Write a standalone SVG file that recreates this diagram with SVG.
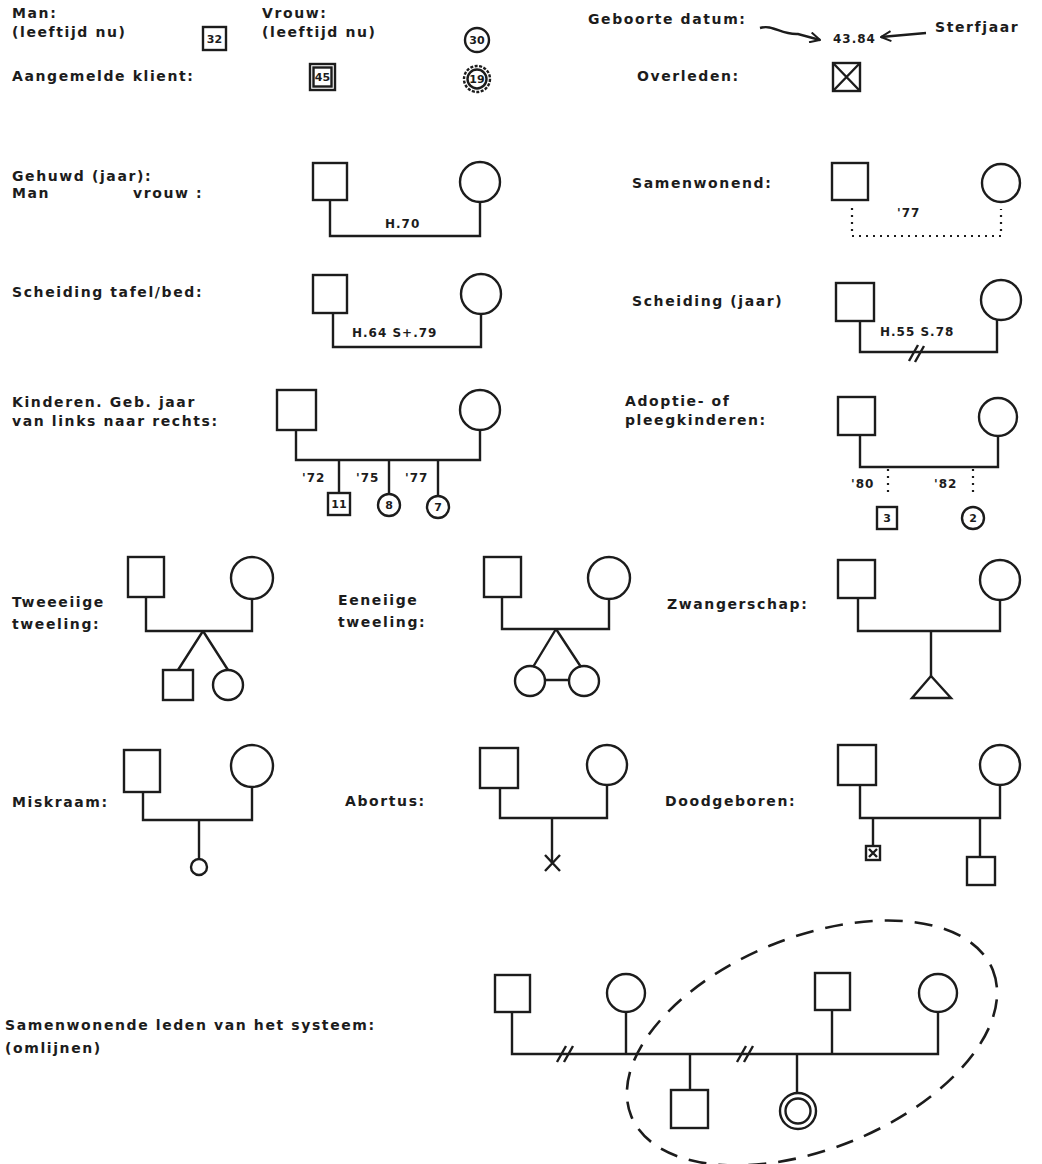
<svg xmlns="http://www.w3.org/2000/svg" width="1042" height="1164" viewBox="0 0 1042 1164">
<style>
.lbl{font-family:"DejaVu Sans","Liberation Sans",sans-serif;font-weight:bold;font-size:14px;letter-spacing:1.6px;fill:#1c1c1c}
.sm{font-family:"DejaVu Sans","Liberation Sans",sans-serif;font-weight:bold;font-size:12px;letter-spacing:1px;fill:#1c1c1c}
.num{font-family:"DejaVu Sans","Liberation Sans",sans-serif;font-weight:bold;font-size:11px;fill:#1c1c1c;text-anchor:middle}
.s{fill:#fff;stroke:#1c1c1c;stroke-width:2.4}
.ln{fill:none;stroke:#1c1c1c;stroke-width:2.4}
.dot{fill:none;stroke:#1c1c1c;stroke-width:2.2;stroke-dasharray:2 5}
.dash{fill:none;stroke:#1c1c1c;stroke-width:2.6;stroke-dasharray:18 12}
</style>
<defs>
<marker id="arr" viewBox="0 0 12 12" refX="11" refY="6" markerWidth="12" markerHeight="12" markerUnits="userSpaceOnUse" orient="auto">
<path d="M1,1 L11,6 L1,11" fill="none" stroke="#1c1c1c" stroke-width="2"/>
</marker>
</defs>
<rect width="1042" height="1164" fill="#fff"/>

<!-- labels -->
<g id="labels">
<text class="lbl" x="12" y="18">Man:</text>
<text class="lbl" x="12" y="37">(leeftijd nu)</text>
<text class="lbl" x="262" y="18">Vrouw:</text>
<text class="lbl" x="262" y="37">(leeftijd nu)</text>
<text class="lbl" x="12" y="81">Aangemelde klient:</text>
<text class="lbl" x="588" y="24">Geboorte datum:</text>
<text class="lbl" x="935" y="32">Sterfjaar</text>
<text class="lbl" x="637" y="81">Overleden:</text>
<text class="lbl" x="12" y="181">Gehuwd (jaar):</text>
<text class="lbl" x="12" y="198">Man</text>
<text class="lbl" x="133" y="198">vrouw :</text>
<text class="lbl" x="632" y="188">Samenwonend:</text>
<text class="lbl" x="12" y="297">Scheiding tafel/bed:</text>
<text class="lbl" x="632" y="306">Scheiding (jaar)</text>
<text class="lbl" x="12" y="407">Kinderen. Geb. jaar</text>
<text class="lbl" x="12" y="426">van links naar rechts:</text>
<text class="lbl" x="625" y="406">Adoptie- of</text>
<text class="lbl" x="625" y="425">pleegkinderen:</text>
<text class="lbl" x="12" y="607">Tweeeiige</text>
<text class="lbl" x="12" y="629">tweeling:</text>
<text class="lbl" x="338" y="605">Eeneiige</text>
<text class="lbl" x="338" y="627">tweeling:</text>
<text class="lbl" x="667" y="609">Zwangerschap:</text>
<text class="lbl" x="12" y="807">Miskraam:</text>
<text class="lbl" x="345" y="806">Abortus:</text>
<text class="lbl" x="665" y="806">Doodgeboren:</text>
<text class="lbl" x="5" y="1030">Samenwonende leden van het systeem:</text>
<text class="lbl" x="5" y="1053">(omlijnen)</text>
</g>

<!-- legend symbols -->
<g id="man-32"><rect class="s" x="203" y="27" width="23" height="23"/><text class="num" x="214.5" y="43">32</text></g>
<g id="vrouw-30"><circle class="s" cx="477" cy="40" r="12"/><text class="num" x="477" y="44">30</text></g>
<g id="klient-45"><rect class="s" x="310" y="64" width="25" height="26"/><rect class="s" x="313.5" y="67.5" width="18" height="19"/><text class="num" x="322.5" y="81">45</text></g>
<g id="klient-19"><circle class="s" cx="477" cy="79" r="13" stroke-dasharray="3 1.5"/><circle class="s" cx="477" cy="79" r="9.5"/><text class="num" x="477" y="83">19</text></g>
<g id="geboorte"><text class="sm" x="833" y="43">43.84</text></g>
<g id="overleden"><rect class="s" x="833" y="63" width="27" height="28"/><path class="ln" d="M833,63 L860,91 M860,63 L833,91"/></g>

<!-- Gehuwd -->
<g id="gehuwd-man"><rect class="s" x="313" y="163" width="34" height="37"/></g>
<g id="gehuwd-vrouw"><circle class="s" cx="480" cy="182" r="20"/></g>
<!-- Samenwonend -->
<g id="samen-man"><rect class="s" x="832" y="163" width="36" height="37"/></g>
<g id="samen-vrouw"><circle class="s" cx="1001" cy="183" r="19"/></g>
<!-- Scheiding tafel/bed -->
<g id="tafel-man"><rect class="s" x="313" y="275" width="34" height="38"/></g>
<g id="tafel-vrouw"><circle class="s" cx="481" cy="294" r="20"/></g>
<!-- Scheiding jaar -->
<g id="sch-man"><rect class="s" x="836" y="283" width="38" height="38"/></g>
<g id="sch-vrouw"><circle class="s" cx="1001" cy="300" r="20"/></g>
<!-- Kinderen -->
<g id="kind-man"><rect class="s" x="277" y="390" width="39" height="40"/></g>
<g id="kind-vrouw"><circle class="s" cx="480" cy="410" r="20"/></g>
<g id="kind-11"><rect class="s" x="328" y="493" width="22" height="22"/><text class="num" x="339" y="508">11</text></g>
<g id="kind-8"><circle class="s" cx="389" cy="505" r="11"/><text class="num" x="389" y="509">8</text></g>
<g id="kind-7"><circle class="s" cx="438" cy="507" r="11"/><text class="num" x="438" y="511">7</text></g>
<!-- Adoptie -->
<g id="adop-man"><rect class="s" x="838" y="397" width="37" height="38"/></g>
<g id="adop-vrouw"><circle class="s" cx="998" cy="417" r="19"/></g>
<g id="adop-3"><rect class="s" x="877" y="507" width="20" height="22"/><text class="num" x="887" y="522">3</text></g>
<g id="adop-2"><circle class="s" cx="973" cy="518" r="11"/><text class="num" x="973" y="522">2</text></g>
<!-- Twee-eiig -->
<g id="tw2-man"><rect class="s" x="128" y="557" width="36" height="40"/></g>
<g id="tw2-vrouw"><circle class="s" cx="252" cy="578" r="21"/></g>
<g id="tw2-zoon"><rect class="s" x="163" y="670" width="30" height="30"/></g>
<g id="tw2-dochter"><circle class="s" cx="228" cy="685" r="15"/></g>
<!-- Eeneiig -->
<g id="tw1-man"><rect class="s" x="484" y="557" width="37" height="40"/></g>
<g id="tw1-vrouw"><circle class="s" cx="609" cy="578" r="21"/></g>
<g id="tw1-a"><circle class="s" cx="530" cy="681" r="15"/></g>
<g id="tw1-b"><circle class="s" cx="584" cy="681" r="15"/></g>
<!-- Zwangerschap -->
<g id="zw-man"><rect class="s" x="838" y="560" width="37" height="38"/></g>
<g id="zw-vrouw"><circle class="s" cx="1000" cy="580" r="20"/></g>
<g id="zw-kind"><polygon class="s" points="931,676 912,698 951,698"/></g>
<!-- Miskraam -->
<g id="mis-man"><rect class="s" x="124" y="750" width="36" height="42"/></g>
<g id="mis-vrouw"><circle class="s" cx="252" cy="766" r="21"/></g>
<g id="mis-kind"><circle class="s" cx="199" cy="867" r="8"/></g>
<!-- Abortus -->
<g id="ab-man"><rect class="s" x="480" y="748" width="38" height="40"/></g>
<g id="ab-vrouw"><circle class="s" cx="607" cy="765" r="20"/></g>
<g id="ab-kind"><path class="ln" d="M545,855 L560,871 M560,855 L545,871"/></g>
<!-- Doodgeboren -->
<g id="dg-man"><rect class="s" x="838" y="745" width="38" height="40"/></g>
<g id="dg-vrouw"><circle class="s" cx="1000" cy="765" r="20"/></g>
<g id="dg-kind1"><rect class="s" x="866" y="846" width="14" height="14"/><path class="ln" stroke-width="1.6" d="M869,849 L877,857 M877,849 L869,857"/></g>
<g id="dg-kind2"><rect class="s" x="967" y="857" width="28" height="28"/></g>
<!-- Systeem -->
<g id="sys-man1"><rect class="s" x="495" y="975" width="35" height="37"/></g>
<g id="sys-vrouw1"><circle class="s" cx="626" cy="993" r="19"/></g>
<g id="sys-man2"><rect class="s" x="815" y="973" width="35" height="37"/></g>
<g id="sys-vrouw2"><circle class="s" cx="938" cy="993" r="19"/></g>
<g id="sys-zoon"><rect class="s" x="671" y="1090" width="37" height="38"/></g>
<g id="sys-dochter"><circle class="s" cx="798" cy="1111" r="18"/><circle class="s" cx="798" cy="1111" r="12.5"/></g>
<g id="sys-omlijning"><ellipse class="dash" cx="812" cy="1043" rx="195" ry="106" transform="rotate(-22 812 1043)"/></g>

<!-- connectors -->
<g id="connectors">
<path class="ln" d="M760,28 C773,24 781,35 798,34 L820,40" marker-end="url(#arr)"/>
<path class="ln" d="M926,33 L881,37" marker-end="url(#arr)"/>

<path class="ln" d="M330,200 V236 H480 V202"/>
<text class="sm" x="385" y="228">H.70</text>

<path class="dot" d="M852,208 V236 H1001 V209"/>
<text class="sm" x="897" y="217">'77</text>

<path class="ln" d="M333,313 V347 H481 V314"/>
<text class="sm" x="352" y="337">H.64 S+.79</text>

<path class="ln" d="M860,321 V352 H997 V320"/>
<path class="ln" d="M909,361 L918,345 M915,362 L924,346"/>
<text class="sm" x="880" y="336">H.55 S.78</text>

<path class="ln" d="M296,430 V460 H480 V430"/>
<path class="ln" d="M339,460 V493 M389,460 V494 M438,460 V496"/>
<text class="sm" x="302" y="482">'72</text>
<text class="sm" x="356" y="482">'75</text>
<text class="sm" x="405" y="482">'77</text>

<path class="ln" d="M860,435 V467 H998 V436"/>
<path class="dot" d="M888,469 V496 M973,469 V496"/>
<text class="sm" x="851" y="488">'80</text>
<text class="sm" x="934" y="488">'82</text>

<path class="ln" d="M146,597 V631 H252 V599"/>
<path class="ln" d="M203,631 L178,670 M203,631 L228,670"/>

<path class="ln" d="M502,597 V629 H609 V599"/>
<path class="ln" d="M556,629 L533,667 M556,629 L581,667 M545,680 H569"/>

<path class="ln" d="M858,598 V631 H1000 V600"/>
<path class="ln" d="M931,631 V676"/>

<path class="ln" d="M143,792 V820 H252 V787"/>
<path class="ln" d="M199,820 V859"/>

<path class="ln" d="M500,788 V818 H607 V785"/>
<path class="ln" d="M552,818 V863"/>

<path class="ln" d="M860,785 V818 H1000 V785"/>
<path class="ln" d="M873,818 V846 M980,818 V857"/>

<path class="ln" d="M512,1012 V1054 H938 V1012 M626,1012 V1054 M832,1010 V1054"/>
<path class="ln" d="M557,1062 L566,1046 M564,1062 L573,1046 M737,1062 L746,1046 M744,1062 L753,1046"/>
<path class="ln" d="M690,1054 V1090 M797,1054 V1093"/>
</g>
</svg>
